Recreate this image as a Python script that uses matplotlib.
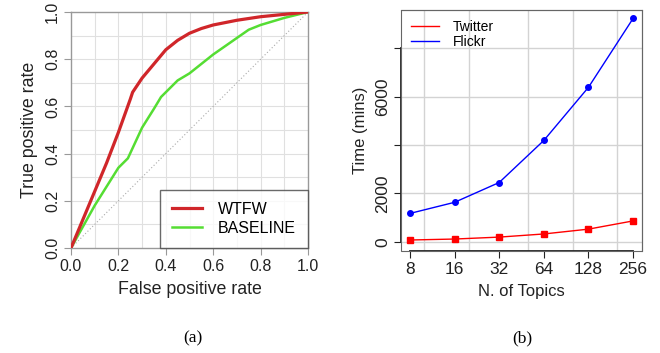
import numpy as np
import matplotlib.pyplot as plt
from matplotlib.patches import Rectangle
from matplotlib.ticker import FixedLocator, NullFormatter

plt.rcParams['font.family'] = ['Liberation Sans', 'DejaVu Sans']

# ROC curves (panel a)
wtfw_fpr = [0, 0.05, 0.1, 0.15, 0.2, 0.25, 0.26, 0.3, 0.35, 0.4, 0.45, 0.5, 0.55, 0.6, 0.7, 0.8, 0.9, 1.0]
wtfw_tpr = [0, 0.12, 0.24, 0.36, 0.49, 0.63, 0.66, 0.72, 0.78, 0.84, 0.88, 0.91, 0.93, 0.945, 0.965, 0.98, 0.99, 1.0]
base_fpr = [0, 0.05, 0.1, 0.15, 0.2, 0.22, 0.24, 0.3, 0.35, 0.38, 0.4, 0.45, 0.5, 0.55, 0.6, 0.7, 0.75, 0.8, 0.9, 1.0]
base_tpr = [0, 0.09, 0.18, 0.26, 0.34, 0.36, 0.38, 0.51, 0.59, 0.64, 0.66, 0.71, 0.74, 0.78, 0.82, 0.89, 0.925, 0.945, 0.975, 1.0]
roc_ticks = [0.0, 0.2, 0.4, 0.6, 0.8, 1.0]

# running time (panel b)
topics = [8, 16, 32, 64, 128, 256]
twitter_time = [70, 110, 190, 320, 520, 860]
flickr_time = [1170, 1630, 2450, 4190, 6390, 9240]
time_ticks = [0, 2000, 4000, 6000, 8000]
time_labels = ['0', '2000', '', '6000', '']

fig = plt.figure(figsize=(6.6, 3.53), dpi=100)

# ---- (a) ROC
ax1 = fig.add_axes([71/660, 1-248/353, 237/660, 236/353])
for v in np.arange(0.1, 1.0, 0.1):
    ax1.axvline(v, color='#e0e0e0', lw=0.8, zorder=0)
    ax1.axhline(v, color='#e0e0e0', lw=0.8, zorder=0)
ax1.plot([0, 1], [0, 1], color='#aaaaaa', lw=0.8, ls=(0, (1, 2)), zorder=1)
ax1.plot(wtfw_fpr, wtfw_tpr, color='#d0262a', lw=2.3, label='WTFW', zorder=3)
ax1.plot(base_fpr, base_tpr, color='#55dd33', lw=1.8, label='BASELINE', zorder=2)
ax1.set_xlim(0, 1)
ax1.set_ylim(0, 1)
ax1.set_xticks(roc_ticks)
ax1.set_yticks(roc_ticks)
ax1.set_xticklabels(['%.1f' % t for t in roc_ticks])
ax1.set_yticklabels(['%.1f' % t for t in roc_ticks], rotation=90, va='center')
ax1.tick_params(labelsize=11.5, length=5, color='#999999', labelcolor='#222222', pad=3)
for s in ax1.spines.values():
    s.set_color('#999999')
    s.set_linewidth(1)
ax1.set_xlabel('False positive rate', fontsize=12.8, color='#222222', labelpad=5)
ax1.set_ylabel('True positive rate', fontsize=12.8, color='#222222', labelpad=5)
leg1 = ax1.legend(loc='lower right', fontsize=11.5, frameon=True, fancybox=False,
                  borderaxespad=0, handlelength=1.9, borderpad=0.75, labelspacing=0.25,
                  handletextpad=1.0)
leg1.get_frame().set_edgecolor('#444444')
leg1.get_frame().set_linewidth(1)

# ---- (b) time
ax2 = fig.add_axes([401/660, 1-251/353, 241/660, 241/353])
ax2.set_xscale('log', base=2)
ax2.set_xlim(2**2.8, 2**8.2)
ax2.set_ylim(-385, 9590)
for v in [10, 20, 50, 100, 200]:
    ax2.axvline(v, color='#d3d3d3', lw=1, zorder=0)
for v in time_ticks:
    ax2.axhline(v, color='#d3d3d3', lw=1, zorder=0)
ax2.plot(topics, twitter_time, color='red', lw=1, marker='s', ms=5, label='Twitter', zorder=3)
ax2.plot(topics, flickr_time, color='blue', lw=1, marker='o', ms=4, label='Flickr', zorder=3)
ax2.xaxis.set_major_locator(FixedLocator(topics))
ax2.xaxis.set_minor_formatter(NullFormatter())
ax2.xaxis.set_minor_locator(FixedLocator([]))
ax2.set_xticklabels([str(t) for t in topics])
ax2.set_yticks(time_ticks)
ax2.set_yticklabels(time_labels, rotation=90, va='center')
ax2.tick_params(labelsize=12.5, length=5, color='#222222', labelcolor='#222222', pad=3)
for s in ax2.spines.values():
    s.set_color('#666666')
    s.set_linewidth(0.8)
ax2.spines['left'].set_bounds(0, 8000)
ax2.spines['bottom'].set_bounds(8, 256)
ax2.spines['left'].set_color('#222222')
ax2.spines['bottom'].set_color('#222222')
ax2.spines['left'].set_linewidth(1.3)
ax2.spines['bottom'].set_linewidth(1.3)
ax2.add_patch(Rectangle((0, 0), 1, 1, transform=ax2.transAxes, fill=False,
                        edgecolor='#666666', lw=0.8, clip_on=False, zorder=5))
ax2.set_xlabel('N. of Topics', fontsize=12, color='#222222', labelpad=5)
ax2.set_ylabel('Time (mins)', fontsize=12, color='#222222', labelpad=5)
leg2 = ax2.legend(loc='upper left', fontsize=10, frameon=False, handlelength=2.0,
                  borderaxespad=0.3, labelspacing=0.1, handletextpad=1.0)
for h in leg2.legend_handles:
    h.set_marker('')

fig.text(193/660, 1-338/353, '(a)', family='Liberation Serif', fontsize=12.5,
         ha='center', va='center')
fig.text(522/660, 1-338/353, '(b)', family='Liberation Serif', fontsize=12.5,
         ha='center', va='center')

fig.savefig('out.png', dpi=100)
